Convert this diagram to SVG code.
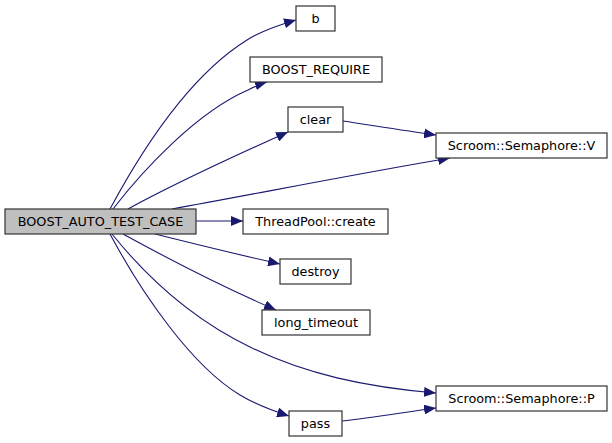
<svg xmlns="http://www.w3.org/2000/svg" width="612" height="443" viewBox="0 0 612 443">
<defs>
<style>
.n rect{fill:#ffffff;stroke:#333333;stroke-width:1.2}
.n.main rect{fill:#bfbfbf}
.n text{font-family:"DejaVu Sans",sans-serif;font-size:12.8px;fill:#000;text-anchor:middle}
.e path{fill:none;stroke:#191970;stroke-width:1.1}
</style>
<marker id="ah" viewBox="0 0 12 10" refX="12" refY="5" markerWidth="12" markerHeight="10" markerUnits="userSpaceOnUse" orient="auto">
<path d="M0,0 L12,5 L0,10 Z" fill="#191970" stroke="none"/>
</marker>
</defs>
<rect width="612" height="443" fill="#ffffff"/>
<g id="edges" class="e">
<path d="M110,209 C138,157 186,78 247,40 C258,33 272,27 296,20" marker-end="url(#ah)"/>
<path d="M113,209 C143,170 197,112 248,90 C254,87 260,84 267,82" marker-end="url(#ah)"/>
<path d="M128,209 C170,186 230,158 288,132" marker-end="url(#ah)"/>
<path d="M172,209 C250,195 350,175 450,158" marker-end="url(#ah)"/>
<path d="M343,121 C370,125 400,130 436,135" marker-end="url(#ah)"/>
<path d="M196,221 L243,221" marker-end="url(#ah)"/>
<path d="M155,234 C195,244 240,255 280,264" marker-end="url(#ah)"/>
<path d="M123,234 C165,257 225,288 276,310" marker-end="url(#ah)"/>
<path d="M112,234 C145,275 190,318 250,347 C305,374 365,387 436,393" marker-end="url(#ah)"/>
<path d="M110,234 C140,290 190,365 240,395 C255,404 270,410 289,416" marker-end="url(#ah)"/>
<path d="M342,421 C370,418 400,413 436,408" marker-end="url(#ah)"/>
</g>
<g id="node-main" class="n main"><rect x="5" y="209" width="191" height="25"/><text x="100.5" y="226">BOOST_AUTO_TEST_CASE</text></g>
<g id="node-b" class="n"><rect x="296" y="6" width="39" height="25"/><text x="315.5" y="23">b</text></g>
<g id="node-require" class="n"><rect x="250" y="57" width="132" height="25"/><text x="316" y="74">BOOST_REQUIRE</text></g>
<g id="node-clear" class="n"><rect x="288" y="107" width="55" height="25"/><text x="315.5" y="124">clear</text></g>
<g id="node-create" class="n"><rect x="243" y="209" width="145" height="25"/><text x="315.5" y="226">ThreadPool::create</text></g>
<g id="node-destroy" class="n"><rect x="280" y="259" width="71" height="25"/><text x="315.5" y="276">destroy</text></g>
<g id="node-long" class="n"><rect x="262" y="310" width="108" height="25"/><text x="316" y="327">long_timeout</text></g>
<g id="node-pass" class="n"><rect x="289" y="411" width="53" height="25"/><text x="315.5" y="428">pass</text></g>
<g id="node-V" class="n"><rect x="436" y="133" width="171" height="25"/><text x="521.5" y="150">Scroom::Semaphore::V</text></g>
<g id="node-P" class="n"><rect x="436" y="386" width="171" height="25"/><text x="521.5" y="403">Scroom::Semaphore::P</text></g>
</svg>
